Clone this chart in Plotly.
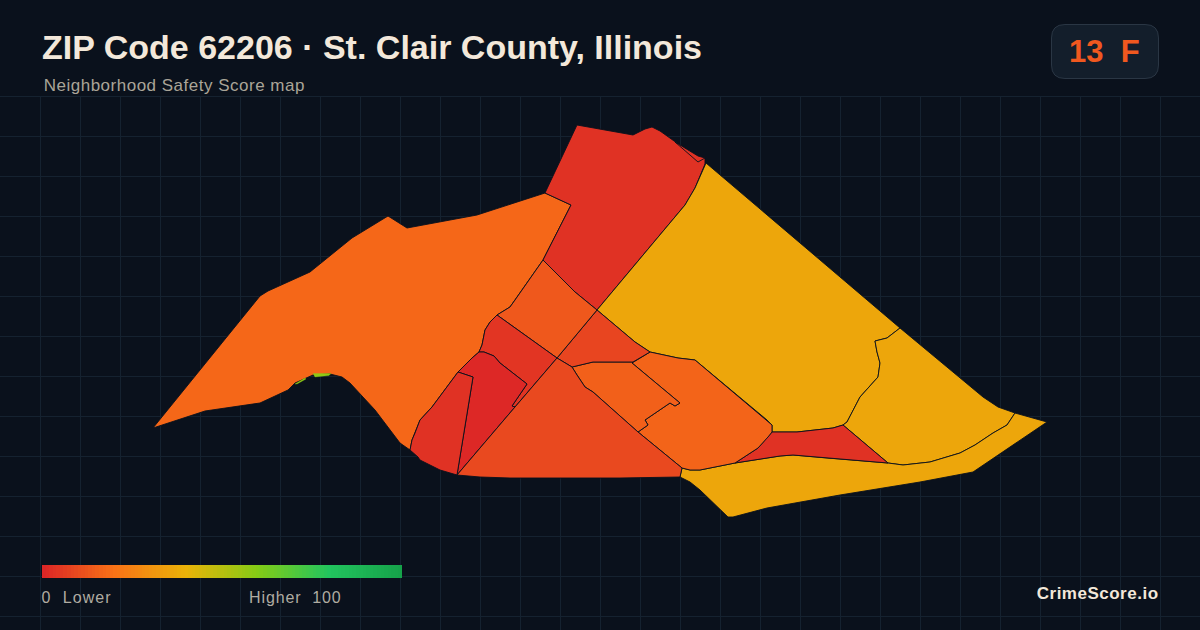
import plotly.graph_objects as go

# ---- tract outlines (map units) ----
west_x = [153,205,260,288,295,313,330,342,350,375,400,410,412,415,420,432,458,472,479,482,485,490,497,510,515,543,571,545,477,407,388,352,310,268,260]
west_y = [428,411,403,390,383,375,374,377,383,410,443,450,440,433,420,407,372,358,352,345,330,322,315,307,300,260,205,193,215,228,216,238,272,291,296]
north_x = [577,633,645,652,660,675,698,705,705,695,685,597,575,543,571,545]
north_y = [125,135,129,127,131,142,158,158,164,188,205,310,292,260,205,193]
sliver_x = [675,698,705,698]
sliver_y = [142,162,158,156]
ne_x = [597,685,695,706,900,887,875,877,880,878,860,853,847,843,833,797,772,772,767,695,678,650,635]
ne_y = [310,205,188,163,328,338,341,352,363,377,397,410,422,425,428,432,432,425,420,360,358,352,342]
se_x = [900,983,998,1015,1007,993,975,960,930,903,888,843,847,853,860,878,880,877,875,887]
se_y = [328,397,407,413,425,433,445,453,462,465,463,425,422,410,397,377,363,352,341,338]
south_x = [682,690,700,735,780,793,827,888,903,930,960,975,993,1007,1015,1047,973,920,840,767,733,728,700,690,680]
south_y = [468,470,470,463,456,455,458,463,465,462,453,445,433,425,413,422,472,482,495,508,517,517,490,482,477]
strip_x = [772,797,833,843,888,827,793,780,735,758,768]
strip_y = [432,432,428,425,463,458,455,456,463,448,437]
eastmid_x = [650,678,695,767,772,772,768,758,735,700,690,682,638,648,645,670,675,680,632]
eastmid_y = [352,358,360,420,425,432,437,448,463,470,470,468,432,425,420,403,406,403,363]
center_x = [572,593,633,632,680,675,670,645,648,638,593,585,577]
center_y = [367,362,362,363,403,406,403,420,425,432,392,387,375]
centright_x = [597,635,650,633,593,572,557]
centright_y = [310,342,352,362,362,367,358]
uppermid_x = [543,575,597,557,497,510,515]
uppermid_y = [260,292,310,358,315,307,300]
wedge_x = [497,557,515,512,527,500,494,484,479,482,485,490]
wedge_y = [315,358,407,406,384,363,356,352,352,345,330,322]
redcore_x = [479,484,494,500,527,512,515,457,473,458,472]
redcore_y = [352,352,356,363,384,406,407,475,377,372,358]
sw_x = [458,473,457,440,420,418,410,412,415,420,432]
sw_y = [372,377,475,470,460,457,450,440,433,420,407]
triangle_x = [557,572,577,585,593,638,682,680,620,550,510,480,457,515]
triangle_y = [358,367,375,387,392,432,468,477,478,478,478,477,475,407]
lime_a_x = [313,331,329,315]
lime_a_y = [373.5,373.5,375.5,377]
lime_b_x = [295,305,306,297]
lime_b_y = [384,378,379,384]

region_x = [west_x, north_x, sliver_x, ne_x, se_x, south_x, strip_x, eastmid_x, center_x,
            centright_x, uppermid_x, wedge_x, redcore_x, sw_x, triangle_x]
region_y = [west_y, north_y, sliver_y, ne_y, se_y, south_y, strip_y, eastmid_y, center_y,
            centright_y, uppermid_y, wedge_y, redcore_y, sw_y, triangle_y]
region_scores = [17, 3, 3, 36, 36, 36, 3, 16, 15, 8, 13, 4, 0.5, 3, 9]
sliver_regions_x = [lime_a_x, lime_b_x]
sliver_regions_y = [lime_a_y, lime_b_y]
sliver_scores = [58, 58]

# ---- colour ramp and labels ----
ramp_stops = [0, 20, 40, 60, 80, 100]
ramp_colors = ["#dc2626", "#f97316", "#eab308", "#84cc16", "#22c55e", "#16a34a"]
legend_values = list(range(0, 101))

title_text = "ZIP Code 62206 · St. Clair County, Illinois"
subtitle_text = "Neighborhood Safety Score map"
grade_text = "13  F"
brand_text = "CrimeScore.io"
BG = "#0a111c"


def hex_rgb(h):
    return tuple(int(h[i:i + 2], 16) for i in (1, 3, 5))


def score_color(v):
    for i in range(len(ramp_stops) - 1):
        a, b = ramp_stops[i], ramp_stops[i + 1]
        if a <= v <= b:
            t = (v - a) / (b - a)
            ca, cb = hex_rgb(ramp_colors[i]), hex_rgb(ramp_colors[i + 1])
            return "rgb(%d,%d,%d)" % tuple(round(p + (q - p) * t) for p, q in zip(ca, cb))
    return ramp_colors[-1]


fig = go.Figure()

for xs, ys, s in zip(region_x, region_y, region_scores):
    fig.add_trace(go.Scatter(
        x=xs + xs[:1], y=ys + ys[:1], mode="lines", fill="toself",
        fillcolor=score_color(s), line=dict(color="#0a111c", width=0.9),
        hoverinfo="skip", showlegend=False))

for xs, ys, s in zip(sliver_regions_x, sliver_regions_y, sliver_scores):
    fig.add_trace(go.Scatter(
        x=xs + xs[:1], y=ys + ys[:1], mode="lines", fill="toself",
        fillcolor=score_color(s), line=dict(color=score_color(s), width=0.3),
        hoverinfo="skip", showlegend=False))

# legend bar: the same plot units, one cell per score across 42..402
fig.add_trace(go.Heatmap(
    z=[legend_values], x0=43.78, dx=3.564, y=[565, 578],
    colorscale=[[p / 100, c] for p, c in zip(ramp_stops, ramp_colors)],
    zmin=0, zmax=100, showscale=False, hoverinfo="skip"))

axis = dict(showticklabels=False, zeroline=False, ticks="", showline=False,
            showgrid=True, gridcolor="#152230", gridwidth=1)
fig.update_layout(
    width=1200, height=630, margin=dict(l=0, r=0, t=0, b=0),
    paper_bgcolor=BG, plot_bgcolor=BG, showlegend=False,
    xaxis=dict(range=[0, 1200], tick0=0.5, dtick=40, **axis),
    yaxis=dict(range=[630, 0], tick0=16.5, dtick=40, **axis),
    shapes=[
        dict(type="rect", layer="between", x0=0, x1=1200, y0=0, y1=96,
             fillcolor=BG, line=dict(width=0)),
        dict(type="path", layer="above",
             path="M 1065 24.5 L 1145 24.5 Q 1158.5 24.5 1158.5 38 L 1158.5 65 Q 1158.5 78.5 1145 78.5 "
                  "L 1065 78.5 Q 1051.5 78.5 1051.5 65 L 1051.5 38 Q 1051.5 24.5 1065 24.5 Z",
             fillcolor="#131e2b", line=dict(color="#2a3644", width=1)),
    ],
    annotations=[
        dict(x=40, y=47, text=title_text, showarrow=False, xanchor="left", yanchor="middle",
             font=dict(family="Liberation Sans", size=34, color="#f3e8da", weight="bold")),
        dict(x=49, y=85, text=subtitle_text, showarrow=False, xanchor="left", yanchor="middle",
             font=dict(family="Liberation Sans", size=17, color="#aaa598")),
        dict(x=1104.5, y=51, text=grade_text, showarrow=False, xanchor="center", yanchor="middle",
             font=dict(family="Liberation Sans", size=31, color="#f0581f", weight="bold")),
        dict(x=44, y=597, text="0  Lower", showarrow=False, xanchor="left", yanchor="middle",
             font=dict(family="Liberation Sans", size=16, color="#b0aca2")),
        dict(x=252, y=597, text="Higher  100", showarrow=False, xanchor="left", yanchor="middle",
             font=dict(family="Liberation Sans", size=16, color="#b0aca2")),
        dict(x=1156.5, y=593, text=brand_text, showarrow=False, xanchor="right", yanchor="middle",
             font=dict(family="Liberation Sans", size=17, color="#f3e8da", weight="bold")),
    ],
)

spacing_js = """
document.body.style.margin='0';document.body.style.background='#0a111c';
var sp=[0,0.5,0,1.1,0.9,0.5];
document.querySelectorAll('.annotation-text').forEach(function(t,i){t.style.letterSpacing=sp[i]+'px';});
"""
fig.write_html("out.html", config={"displayModeBar": False}, post_script=spacing_js)
